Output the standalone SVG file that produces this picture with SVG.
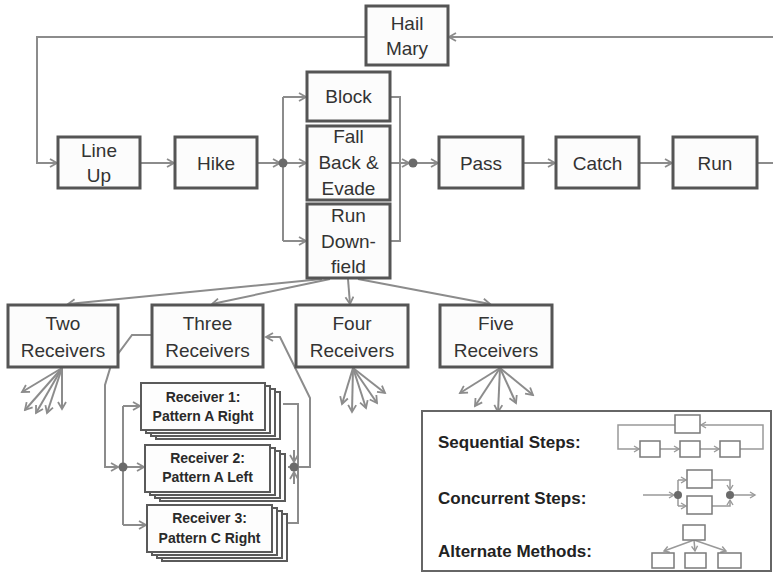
<svg xmlns="http://www.w3.org/2000/svg" width="773" height="578" viewBox="0 0 773 578">
<defs>
<style>
.box{fill:#fcfcfc;stroke:#555;stroke-width:3}
.rbox{fill:#fdfdfd;stroke:#5a5a5a;stroke-width:2}
.conn{fill:none;stroke:#8c8c8c;stroke-width:2}
.thin{fill:none;stroke:#999;stroke-width:1.5}
.ibox{fill:#fff;stroke:#7a7a7a;stroke-width:1.5}
.dot{fill:#6a6a6a}
.t{font-family:"Liberation Sans",Arial,sans-serif;font-size:19px;fill:#333;text-anchor:middle}
.r{font-family:"Liberation Sans",Arial,sans-serif;font-size:14px;font-weight:bold;fill:#2a2a2a;text-anchor:middle}
.lg{font-family:"Liberation Sans",Arial,sans-serif;font-size:17px;font-weight:bold;fill:#222}
</style>
<marker id="ah" markerWidth="10" markerHeight="10" refX="8" refY="5" orient="auto" markerUnits="userSpaceOnUse">
<path d="M1,1 L8,5 L1,9" fill="none" stroke="#8c8c8c" stroke-width="1.8"/>
</marker>
<marker id="as" markerWidth="8" markerHeight="8" refX="6" refY="4" orient="auto" markerUnits="userSpaceOnUse">
<path d="M1,1 L6,4 L1,7" fill="none" stroke="#999" stroke-width="1.4"/>
</marker>
</defs>
<rect width="773" height="578" fill="#fff"/>

<g id="connectors">
<path class="conn" d="M773,37 L449,37" marker-end="url(#ah)"/>
<path class="conn" d="M366,37 L37,37 L37,163 L57,163" marker-end="url(#ah)"/>
<path class="conn" d="M140,163 L174,163" marker-end="url(#ah)"/>
<path class="conn" d="M257,163 L280,163" marker-end="url(#ah)"/>
<path class="conn" d="M283,163 L306,163" marker-end="url(#ah)"/>
<path class="conn" d="M283,97 L283,241"/>
<path class="conn" d="M283,97 L306,97" marker-end="url(#ah)"/>
<path class="conn" d="M283,241 L306,241" marker-end="url(#ah)"/>
<path class="conn" d="M390,97 L400,97 L400,241 L390,241"/>
<path class="conn" d="M390,163 L409,163" marker-end="url(#ah)"/>
<path class="conn" d="M413,163 L438,163" marker-end="url(#ah)"/>
<path class="conn" d="M523,163 L555,163" marker-end="url(#ah)"/>
<path class="conn" d="M639,163 L672,163" marker-end="url(#ah)"/>
<path class="conn" d="M757,163 L773,163"/>
<path class="conn" d="M322,279 L68,304" marker-end="url(#ah)"/>
<path class="conn" d="M330,279 L212,304" marker-end="url(#ah)"/>
<path class="conn" d="M348,279 L350,304" marker-end="url(#ah)"/>
<path class="conn" d="M358,279 L490,304" marker-end="url(#ah)"/>
<path class="conn" d="M62,368 L22,392" marker-end="url(#ah)"/>
<path class="conn" d="M62,368 L25,410" marker-end="url(#ah)"/>
<path class="conn" d="M62,368 L36,413" marker-end="url(#ah)"/>
<path class="conn" d="M62,368 L47,413" marker-end="url(#ah)"/>
<path class="conn" d="M62,368 L62,409" marker-end="url(#ah)"/>
<path class="conn" d="M353,368 L342,404" marker-end="url(#ah)"/>
<path class="conn" d="M353,368 L352,412" marker-end="url(#ah)"/>
<path class="conn" d="M353,368 L366,408" marker-end="url(#ah)"/>
<path class="conn" d="M353,368 L377,403" marker-end="url(#ah)"/>
<path class="conn" d="M353,368 L385,393" marker-end="url(#ah)"/>
<path class="conn" d="M500,368 L460,393" marker-end="url(#ah)"/>
<path class="conn" d="M500,368 L475,406" marker-end="url(#ah)"/>
<path class="conn" d="M500,368 L498,412" marker-end="url(#ah)"/>
<path class="conn" d="M500,368 L516,403" marker-end="url(#ah)"/>
<path class="conn" d="M500,368 L533,395" marker-end="url(#ah)"/>
<path class="conn" d="M152,335 L132,335 L112,362 L105,385 L105,467 L118,467" marker-end="url(#ah)"/>
<path class="conn" d="M123,406 L123,525"/>
<path class="conn" d="M123,406 L140,406" marker-end="url(#ah)"/>
<path class="conn" d="M123,467 L144,467" marker-end="url(#ah)"/>
<path class="conn" d="M123,525 L146,525" marker-end="url(#ah)"/>
<path class="conn" d="M283,404 L298,404 L298,523 L287,523"/>
<path class="conn" d="M288,467 L298,467"/>
<path class="conn" d="M294,450 L294,462" marker-end="url(#ah)"/>
<path class="conn" d="M294,484 L294,472" marker-end="url(#ah)"/>
<path class="conn" d="M294,467 L310,467 L310,398 L280,337 L266,337" marker-end="url(#ah)"/>
</g>

<g id="dots">
<circle class="dot" cx="283" cy="163" r="4.5"/>
<circle class="dot" cx="413" cy="163" r="4.5"/>
<circle class="dot" cx="123" cy="467" r="4.5"/>
<circle class="dot" cx="294" cy="467" r="4.5"/>
</g>

<g id="hail-mary"><rect class="box" x="366" y="6" width="82" height="59"/><text class="t" x="407" y="30">Hail</text><text class="t" x="407" y="55">Mary</text></g>
<g id="line-up"><rect class="box" x="58" y="137" width="82" height="51"/><text class="t" x="99" y="157">Line</text><text class="t" x="99" y="182">Up</text></g>
<g id="hike"><rect class="box" x="175" y="137" width="82" height="51"/><text class="t" x="216" y="170">Hike</text></g>
<g id="block"><rect class="box" x="307" y="72" width="83" height="49"/><text class="t" x="348.5" y="103">Block</text></g>
<g id="fall-back"><rect class="box" x="307" y="126" width="83" height="74"/><text class="t" x="348.5" y="143">Fall</text><text class="t" x="348.5" y="169">Back &amp;</text><text class="t" x="348.5" y="195">Evade</text></g>
<g id="run-downfield"><rect class="box" x="307" y="204" width="83" height="74"/><text class="t" x="348.5" y="222">Run</text><text class="t" x="348.5" y="248">Down-</text><text class="t" x="348.5" y="273">field</text></g>
<g id="pass"><rect class="box" x="439" y="137" width="84" height="51"/><text class="t" x="481" y="170">Pass</text></g>
<g id="catch"><rect class="box" x="556" y="137" width="83" height="51"/><text class="t" x="597.5" y="170">Catch</text></g>
<g id="run"><rect class="box" x="673" y="137" width="84" height="51"/><text class="t" x="715" y="170">Run</text></g>

<g id="two-receivers"><rect class="box" x="8" y="305" width="110" height="62"/><text class="t" x="63" y="330">Two</text><text class="t" x="63" y="357">Receivers</text></g>
<g id="three-receivers"><rect class="box" x="152" y="305" width="111" height="62"/><text class="t" x="207.5" y="330">Three</text><text class="t" x="207.5" y="357">Receivers</text></g>
<g id="four-receivers"><rect class="box" x="296" y="305" width="112" height="62"/><text class="t" x="352" y="330">Four</text><text class="t" x="352" y="357">Receivers</text></g>
<g id="five-receivers"><rect class="box" x="440" y="305" width="112" height="62"/><text class="t" x="496" y="330">Five</text><text class="t" x="496" y="357">Receivers</text></g>

<g id="receiver-1">
<rect class="rbox" x="156" y="392" width="124" height="47"/>
<rect class="rbox" x="151" y="389" width="124" height="47"/>
<rect class="rbox" x="146" y="386" width="124" height="47"/>
<rect class="rbox" x="141" y="383" width="124" height="47"/>
<text class="r" x="203" y="402">Receiver 1:</text><text class="r" x="203" y="421">Pattern A Right</text>
</g>
<g id="receiver-2">
<rect class="rbox" x="160" y="454" width="125" height="47"/>
<rect class="rbox" x="155" y="451" width="125" height="47"/>
<rect class="rbox" x="150" y="448" width="125" height="47"/>
<rect class="rbox" x="145" y="445" width="125" height="47"/>
<text class="r" x="207.5" y="463">Receiver 2:</text><text class="r" x="207.5" y="482">Pattern A Left</text>
</g>
<g id="receiver-3">
<rect class="rbox" x="162" y="514" width="125" height="47"/>
<rect class="rbox" x="157" y="511" width="125" height="47"/>
<rect class="rbox" x="152" y="508" width="125" height="47"/>
<rect class="rbox" x="147" y="505" width="125" height="47"/>
<text class="r" x="209.5" y="523">Receiver 3:</text><text class="r" x="209.5" y="543">Pattern C Right</text>
</g>

<g id="legend">
<rect x="422" y="411" width="349" height="160" fill="#fff" stroke="#666" stroke-width="2"/>
<text class="lg" x="438" y="448">Sequential Steps:</text>
<text class="lg" x="438" y="504">Concurrent Steps:</text>
<text class="lg" x="438" y="557">Alternate Methods:</text>
<path class="thin" d="M675,425 L618,425 L618,449 L639,449" marker-end="url(#as)"/>
<path class="thin" d="M660,449 L679,449" marker-end="url(#as)"/>
<path class="thin" d="M700,449 L719,449" marker-end="url(#as)"/>
<path class="thin" d="M740,449 L763,449 L763,425 L701,425" marker-end="url(#as)"/>
<rect class="ibox" x="675" y="415" width="25" height="18"/>
<rect class="ibox" x="640" y="441" width="20" height="16"/>
<rect class="ibox" x="680" y="441" width="20" height="16"/>
<rect class="ibox" x="720" y="441" width="20" height="16"/>
<path class="thin" d="M643,495 L674,495" marker-end="url(#as)"/>
<path class="thin" d="M678,480 L678,506"/>
<path class="thin" d="M678,480 L686,480" marker-end="url(#as)"/>
<path class="thin" d="M678,506 L686,506" marker-end="url(#as)"/>
<path class="thin" d="M712,480 L730,480 L730,490" marker-end="url(#as)"/>
<path class="thin" d="M712,506 L730,506 L730,500" marker-end="url(#as)"/>
<path class="thin" d="M730,495 L755,495" marker-end="url(#as)"/>
<rect class="ibox" x="687" y="470" width="25" height="18"/>
<rect class="ibox" x="687" y="496" width="25" height="18"/>
<circle class="dot" cx="678" cy="495" r="4"/>
<circle class="dot" cx="730" cy="495" r="4"/>
<path class="thin" d="M694,540 L664,551" marker-end="url(#as)"/>
<path class="thin" d="M694,540 L695,551" marker-end="url(#as)"/>
<path class="thin" d="M694,540 L726,551" marker-end="url(#as)"/>
<rect class="ibox" x="683" y="525" width="22" height="15"/>
<rect class="ibox" x="652" y="553" width="22" height="15"/>
<rect class="ibox" x="685" y="553" width="21" height="15"/>
<rect class="ibox" x="718" y="553" width="23" height="15"/>
</g>
</svg>
